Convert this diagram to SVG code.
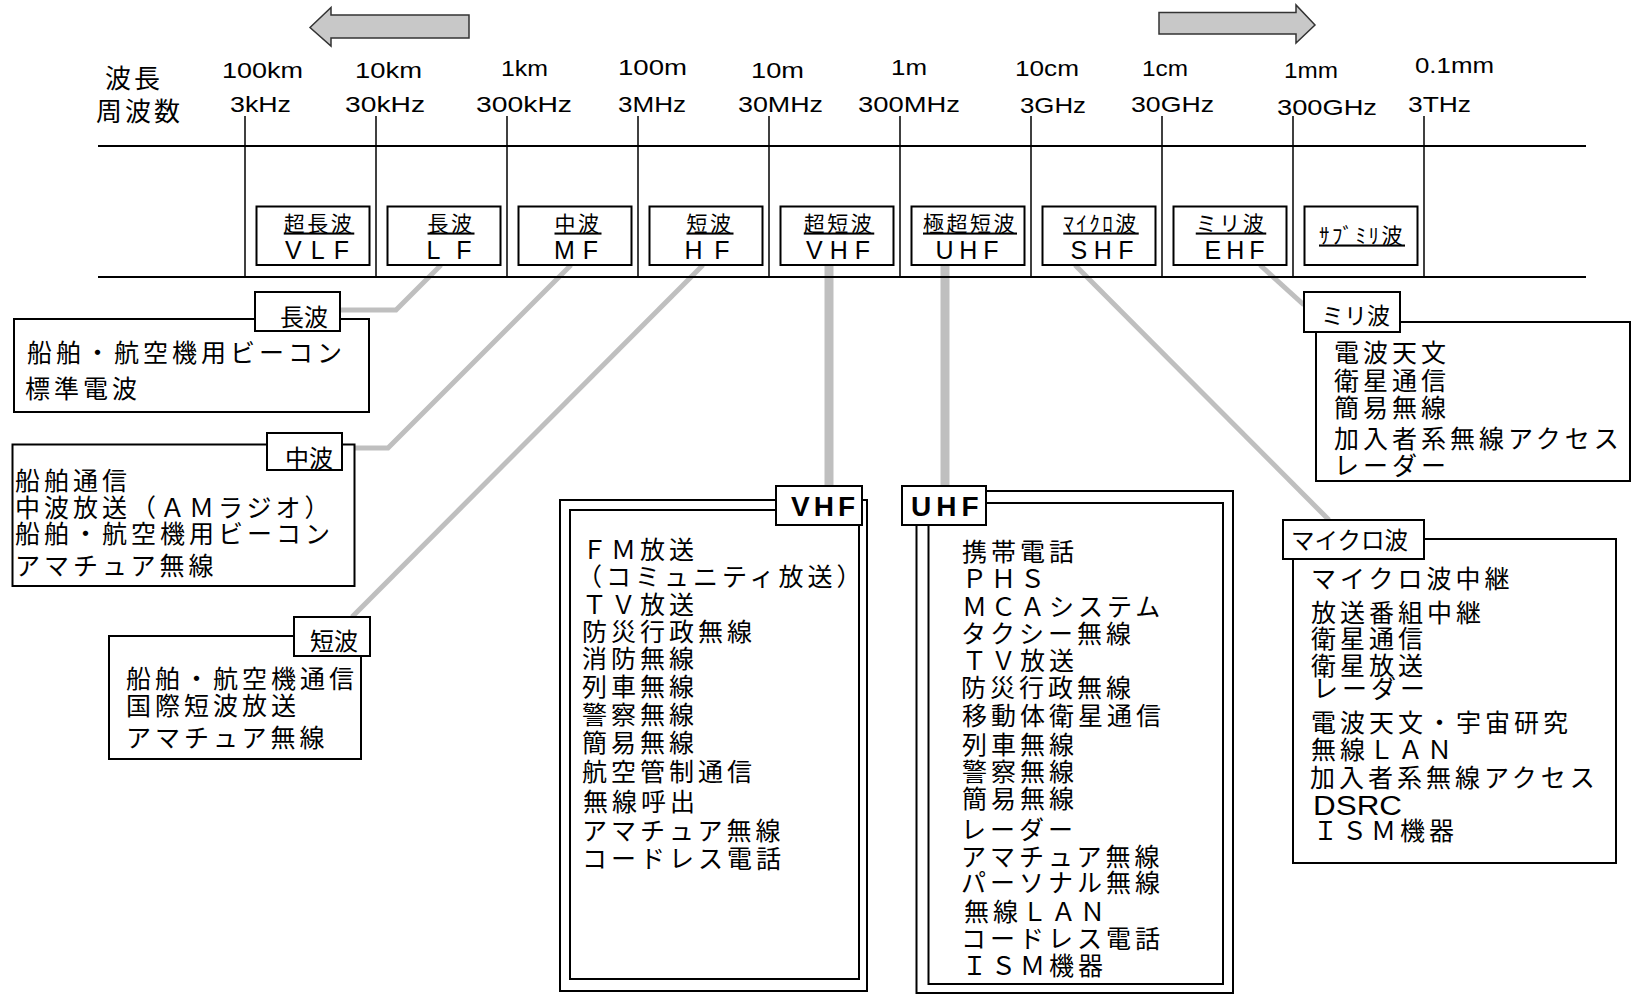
<svg xmlns="http://www.w3.org/2000/svg" width="1633" height="995" viewBox="0 0 1633 995">
<style>
.ax{stroke:#000;stroke-width:2;fill:none}
.tick{stroke:#000;stroke-width:1.5}
.box{fill:#fff;stroke:#000;stroke-width:2}
.con{stroke:#bfbfbf;stroke-width:5;fill:none}
.conv{stroke:#bfbfbf;stroke-width:9;fill:none}
.arrow{fill:#c8c8c8;stroke:#333;stroke-width:1.5}
.jp{font-family:"Noto Sans CJK JP","Noto Sans CJK SC",sans-serif;fill:#000}
.list{font-size:25px;letter-spacing:4px}
.tab{font-size:24px}
.head{font-size:26px;letter-spacing:3px}
.band{font-size:21px;letter-spacing:2.5px;text-decoration:underline;text-anchor:middle}
.en{font-family:"Liberation Sans",Arial,sans-serif;fill:#000}
.bandEn{font-size:25px;text-anchor:middle}
.lbl{font-size:22px}
.tabEn{font-size:28px;font-weight:bold}
</style>

<g id="connectors">
<polyline class="con" points="441,265 396,310 341,310"/>
<polyline class="con" points="571,265 388,448 355,448"/>
<polyline class="con" points="703,265 352,617"/>
<line class="conv" x1="829" y1="265" x2="829" y2="486"/>
<line class="conv" x1="945" y1="265" x2="945" y2="486"/>
<polyline class="con" points="1075,265 1329,520"/>
<polyline class="con" points="1260,265 1304,305"/>
</g>

<g id="arrows">
<polygon class="arrow" points="310,27.5 331,7.5 331,15 469,15 469,38 331,38 331,46"/>
<polygon class="arrow" points="1315,25 1296,5 1296,12.5 1159,12.5 1159,34 1296,34 1296,43"/>
</g>

<g id="axis">
<line class="ax" x1="98" y1="146" x2="1586" y2="146"/>
<line class="ax" x1="98" y1="277" x2="1586" y2="277"/>
<line class="tick" x1="245" y1="116" x2="245" y2="277"/>
<line class="tick" x1="376" y1="116" x2="376" y2="277"/>
<line class="tick" x1="507" y1="116" x2="507" y2="277"/>
<line class="tick" x1="638" y1="116" x2="638" y2="277"/>
<line class="tick" x1="769" y1="116" x2="769" y2="277"/>
<line class="tick" x1="900" y1="116" x2="900" y2="277"/>
<line class="tick" x1="1031" y1="116" x2="1031" y2="277"/>
<line class="tick" x1="1162" y1="116" x2="1162" y2="277"/>
<line class="tick" x1="1293" y1="116" x2="1293" y2="277"/>
<line class="tick" x1="1424" y1="116" x2="1424" y2="277"/>
<text class="jp head" x="105" y="88">波長</text>
<text class="jp head" x="96" y="121">周波数</text>
<g class="en lbl">
<text x="222" y="77.5" textLength="81" lengthAdjust="spacingAndGlyphs">100km</text>
<text x="355" y="77.5" textLength="67" lengthAdjust="spacingAndGlyphs">10km</text>
<text x="501" y="76" textLength="47" lengthAdjust="spacingAndGlyphs">1km</text>
<text x="618" y="75" textLength="69" lengthAdjust="spacingAndGlyphs">100m</text>
<text x="751" y="77.5" textLength="53" lengthAdjust="spacingAndGlyphs">10m</text>
<text x="891" y="75" textLength="36" lengthAdjust="spacingAndGlyphs">1m</text>
<text x="1015" y="76" textLength="64" lengthAdjust="spacingAndGlyphs">10cm</text>
<text x="1142" y="76" textLength="46" lengthAdjust="spacingAndGlyphs">1cm</text>
<text x="1284" y="78" textLength="54" lengthAdjust="spacingAndGlyphs">1mm</text>
<text x="1415" y="72.5" textLength="79" lengthAdjust="spacingAndGlyphs">0.1mm</text>
<text x="230" y="112" textLength="61" lengthAdjust="spacingAndGlyphs">3kHz</text>
<text x="345" y="112" textLength="80" lengthAdjust="spacingAndGlyphs">30kHz</text>
<text x="476" y="112" textLength="96" lengthAdjust="spacingAndGlyphs">300kHz</text>
<text x="618" y="112" textLength="68" lengthAdjust="spacingAndGlyphs">3MHz</text>
<text x="738" y="112" textLength="85" lengthAdjust="spacingAndGlyphs">30MHz</text>
<text x="858" y="112" textLength="102" lengthAdjust="spacingAndGlyphs">300MHz</text>
<text x="1020" y="113" textLength="66" lengthAdjust="spacingAndGlyphs">3GHz</text>
<text x="1131" y="112" textLength="83" lengthAdjust="spacingAndGlyphs">30GHz</text>
<text x="1277" y="114.5" textLength="100" lengthAdjust="spacingAndGlyphs">300GHz</text>
<text x="1408" y="112" textLength="63" lengthAdjust="spacingAndGlyphs">3THz</text>
</g>
</g>

<g id="band-vlf"><rect class="box" x="256.5" y="206.5" width="113" height="58.5"/><text class="jp band" x="319" y="230.5">超長波</text><text class="en bandEn" x="317" y="259" textLength="64" lengthAdjust="spacing">VLF</text></g>
<g id="band-lf"><rect class="box" x="387.5" y="206.5" width="113" height="58.5"/><text class="jp band" x="451" y="230.5">長波</text><text class="en bandEn" x="449" y="259" textLength="45" lengthAdjust="spacing">LF</text></g>
<g id="band-mf"><rect class="box" x="518.5" y="206.5" width="113" height="58.5"/><text class="jp band" x="578" y="230.5">中波</text><text class="en bandEn" x="576" y="259" textLength="44" lengthAdjust="spacing">MF</text></g>
<g id="band-hf"><rect class="box" x="649.5" y="206.5" width="113" height="58.5"/><text class="jp band" x="710" y="230.5">短波</text><text class="en bandEn" x="707" y="259" textLength="45" lengthAdjust="spacing">HF</text></g>
<g id="band-vhf"><rect class="box" x="780.5" y="206.5" width="113" height="58.5"/><text class="jp band" x="839" y="230.5">超短波</text><text class="en bandEn" x="838" y="259" textLength="64" lengthAdjust="spacing">VHF</text></g>
<g id="band-uhf"><rect class="box" x="911.5" y="206.5" width="113" height="58.5"/><text class="jp band" x="970" y="230.5">極超短波</text><text class="en bandEn" x="967" y="259" textLength="63" lengthAdjust="spacing">UHF</text></g>
<g id="band-shf"><rect class="box" x="1042.5" y="206.5" width="113" height="58.5"/><text class="jp band" x="1101" y="230.5">ﾏｲｸﾛ波</text><text class="en bandEn" x="1102" y="259" textLength="63" lengthAdjust="spacing">SHF</text></g>
<g id="band-ehf"><rect class="box" x="1173.5" y="206.5" width="113" height="58.5"/><text class="jp band" x="1231" y="230.5">ミリ波</text><text class="en bandEn" x="1234.5" y="259" textLength="60" lengthAdjust="spacing">EHF</text></g>
<g id="band-submm"><rect class="box" x="1304.5" y="206.5" width="113" height="58.5"/><text class="jp band" x="1362" y="242.5">ｻﾌﾞﾐﾘ波</text></g>

<g id="box-lf">
<rect class="box" x="14" y="319" width="355" height="93"/>
<rect class="box" x="255" y="292" width="85" height="39"/>
<text class="jp tab" x="280" y="326">長波</text>
<text class="jp list" x="27" y="361.5">船舶・航空機用ビーコン</text>
<text class="jp list" x="25" y="398">標準電波</text>
</g>

<g id="box-mf">
<rect class="box" x="12.5" y="444.5" width="342" height="141.5"/>
<rect class="box" x="267" y="433" width="75" height="37"/>
<text class="jp tab" x="285" y="466.5">中波</text>
<text class="jp list" x="15" y="490">船舶通信</text>
<text class="jp list" x="15" y="516.5">中波放送（ＡＭラジオ）</text>
<text class="jp list" x="15" y="543">船舶・航空機用ビーコン</text>
<text class="jp list" x="15" y="575">アマチュア無線</text>
</g>

<g id="box-hf">
<rect class="box" x="109" y="636" width="252" height="123"/>
<rect class="box" x="294" y="617" width="76" height="39"/>
<text class="jp tab" x="310" y="650">短波</text>
<text class="jp list" x="126" y="688">船舶・航空機通信</text>
<text class="jp list" x="126" y="715">国際短波放送</text>
<text class="jp list" x="126" y="746.5">アマチュア無線</text>
</g>

<g id="box-vhf">
<rect class="box" x="560" y="500" width="307" height="491"/>
<rect class="box" x="570" y="510" width="289" height="469"/>
<rect class="box" x="776" y="486" width="86" height="39"/>
<text class="en tabEn" x="791" y="516" letter-spacing="4">VHF</text>
<text class="jp list" x="582" y="559">ＦＭ放送</text>
<text class="jp list" x="577" y="586">（コミュニティ放送）</text>
<text class="jp list" x="582" y="613.5">ＴＶ放送</text>
<text class="jp list" x="582" y="641">防災行政無線</text>
<text class="jp list" x="582" y="668">消防無線</text>
<text class="jp list" x="582" y="695.5">列車無線</text>
<text class="jp list" x="582" y="724">警察無線</text>
<text class="jp list" x="582" y="752">簡易無線</text>
<text class="jp list" x="582" y="780.5">航空管制通信</text>
<text class="jp list" x="583" y="811">無線呼出</text>
<text class="jp list" x="582" y="840">アマチュア無線</text>
<text class="jp list" x="582" y="867.5">コードレス電話</text>
</g>

<g id="box-uhf">
<rect class="box" x="916.5" y="491" width="316.5" height="502"/>
<rect class="box" x="928.5" y="503" width="294.5" height="481"/>
<rect class="box" x="902" y="486" width="84" height="39"/>
<text class="en tabEn" x="911" y="516" letter-spacing="5">UHF</text>
<text class="jp list" x="962" y="560.5">携帯電話</text>
<text class="jp list" x="962" y="588">ＰＨＳ</text>
<text class="jp list" x="962" y="615.5">ＭＣＡシステム</text>
<text class="jp list" x="961" y="642.5">タクシー無線</text>
<text class="jp list" x="962" y="670">ＴＶ放送</text>
<text class="jp list" x="961" y="697">防災行政無線</text>
<text class="jp list" x="962" y="724.5">移動体衛星通信</text>
<text class="jp list" x="962" y="753.5">列車無線</text>
<text class="jp list" x="962" y="781">警察無線</text>
<text class="jp list" x="962" y="808">簡易無線</text>
<text class="jp list" x="961" y="838.5">レーダー</text>
<text class="jp list" x="961" y="866">アマチュア無線</text>
<text class="jp list" x="961" y="891.5">パーソナル無線</text>
<text class="jp list" x="964" y="921">無線ＬＡＮ</text>
<text class="jp list" x="961" y="948">コードレス電話</text>
<text class="jp list" x="962" y="975">ＩＳＭ機器</text>
</g>

<g id="box-ehf">
<rect class="box" x="1316" y="322" width="314" height="159"/>
<rect class="box" x="1304" y="292" width="96" height="40"/>
<text class="jp tab" x="1321" y="323.5" style="font-size:23px">ミリ波</text>
<text class="jp list" x="1334" y="361.5">電波天文</text>
<text class="jp list" x="1334" y="390">衛星通信</text>
<text class="jp list" x="1334" y="416.5">簡易無線</text>
<text class="jp list" x="1334" y="448">加入者系無線アクセス</text>
<text class="jp list" x="1334" y="475">レーダー</text>
</g>

<g id="box-shf">
<rect class="box" x="1293" y="539" width="323" height="324"/>
<rect class="box" x="1283" y="520" width="141" height="39"/>
<text class="jp tab" x="1291" y="548.5" style="font-size:23.5px">マイクロ波</text>
<text class="jp list" x="1311" y="588">マイクロ波中継</text>
<text class="jp list" x="1311" y="621.5">放送番組中継</text>
<text class="jp list" x="1311" y="648">衛星通信</text>
<text class="jp list" x="1311" y="675">衛星放送</text>
<text class="jp list" x="1313" y="698">レーダー</text>
<text class="jp list" x="1311" y="731.5">電波天文・宇宙研究</text>
<text class="jp list" x="1311" y="758.5">無線ＬＡＮ</text>
<text class="jp list" x="1310" y="786.5">加入者系無線アクセス</text>
<text class="en" x="1313" y="815" style="font-size:27px" textLength="89" lengthAdjust="spacingAndGlyphs">DSRC</text>
<text class="jp list" x="1313" y="840">ＩＳＭ機器</text>
</g>
</svg>
